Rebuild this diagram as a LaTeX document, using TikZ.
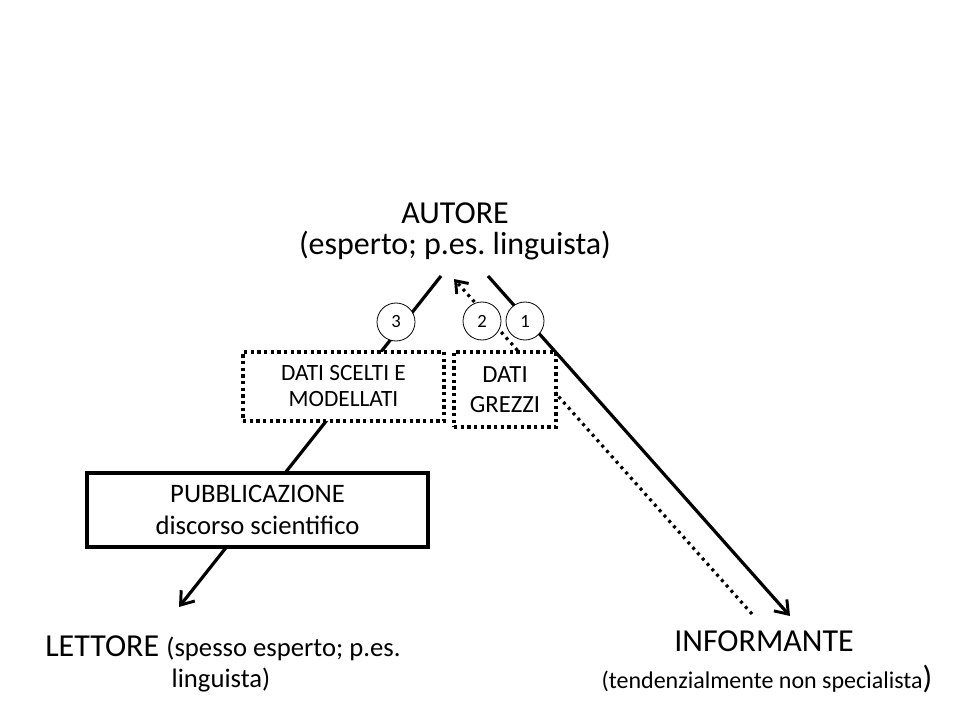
\documentclass[tikz,border=0pt]{standalone}
\usepackage{fontspec}
\setmainfont{Carlito}
\frenchspacing
\usetikzlibrary{arrows.meta}
\begin{document}
\begin{tikzpicture}[x=0.75pt,y=-0.75pt,
  lbl/.style={inner sep=0pt,align=center,font=\fontsize{24}{28}\selectfont},
  solidline/.style={line width=2.4pt,-{Straight Barb[length=9pt,width=13pt,line width=2.2pt]}},
  dotline/.style={line width=2.4pt,dash pattern=on 2.2pt off 3.2pt,-{Straight Barb[length=8pt,width=12pt,line width=2.2pt]}},
  dotbox/.style={draw,fill=white,line width=2.4pt,dash pattern=on 2.4pt off 2.6pt,align=center,inner sep=0pt},
  solidbox/.style={draw,fill=white,line width=2.4pt,align=center,inner sep=0pt},
  numc/.style={draw,fill=white,circle,line width=0.6pt,minimum size=28.5pt,inner sep=0pt,font=\fontsize{14}{16}\selectfont}]
\useasboundingbox (0,0) rectangle (960,720);
\fill[white] (0,0) rectangle (960,720);

% endpoints
\coordinate (l1) at (441,276);
\coordinate (l2) at (179,607);
\coordinate (r1) at (488,276);
\coordinate (r2) at (790,616);
\coordinate (d1) at (752,614);
\coordinate (d2) at (454,279);

\draw[solidline] (l1) -- (l2);
\draw[solidline] (r1) -- (r2);
\draw[dotline] (d1) -- (d2);

\node[lbl] (autore) at (455,213) {AUTORE};
\node[lbl] (autore2) at (455,246) {(esperto; p.es. linguista)};

\node[numc] (c3) at (396,322) {3};
\node[numc] (c2) at (482,321) {2};
\node[numc] (c1) at (525,321) {1};

\node[dotbox,minimum width=150.75pt,minimum height=51.75pt,font=\fontsize{17.5}{19.5}\selectfont] (scelti) at (343.5,386.5) {DATI SCELTI E\\MODELLATI};
\node[dotbox,minimum width=76.5pt,minimum height=56.25pt,font=\fontsize{18.5}{22.5}\selectfont] (grezzi) at (505,389.5) {DATI\\GREZZI};

\node[solidbox,minimum width=255.75pt,minimum height=55.5pt,font=\fontsize{20}{24.5}\selectfont] (pubbl) at (257.5,510) {PUBBLICAZIONE\\discorso scientifico};

\node[lbl,anchor=west] (lettore) at (45,648) {LETTORE {\fontsize{20}{24}\selectfont(spesso esperto; p.es.}};
\node[lbl,font=\fontsize{20}{24}\selectfont] (lettore2) at (221,680) {linguista)};

\node[lbl] (inform) at (764,641) {INFORMANTE};
\node[lbl,font=\fontsize{18}{22}\selectfont] (inform2) at (767,679) {(tendenzialmente non specialista{\fontsize{24}{24}\selectfont)}};
\end{tikzpicture}
\end{document}
